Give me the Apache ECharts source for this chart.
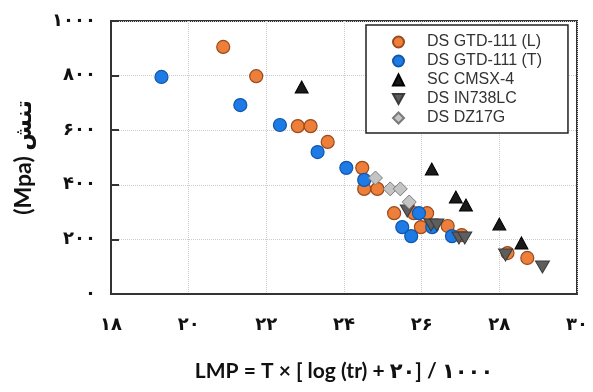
<!DOCTYPE html>
<html><head><meta charset="utf-8">
<script src="https://cdn.jsdelivr.net/npm/echarts@6/dist/echarts.min.js"></script>
<style>html,body{margin:0;padding:0;background:#fff}#c{width:593px;height:392px}</style>
</head><body><div id="c"></div>
<script>
var seriesNames = ['DS GTD-111 (L)', 'DS GTD-111 (T)', 'SC CMSX-4', 'DS IN738LC', 'DS DZ17G'];
var gtdL = [[20.89,905],[21.74,798],[22.81,615],[23.14,615],[23.58,557],[24.47,462],[24.52,385],[24.86,385],[25.29,296],[25.80,296],[26.14,296],[25.98,245],[26.67,249],[27.03,216],[28.21,150],[28.72,132]];
var gtdT = [[19.30,795],[21.33,692],[22.35,619],[23.32,520],[24.06,462],[24.52,418],[25.50,245],[25.73,212],[25.93,296],[26.27,245],[26.78,212]];
var cmsx = [[22.91,758],[26.26,458],[26.88,355],[27.14,326],[28.00,256],[28.57,187]];
var in738 = [[25.63,304],[26.24,253],[26.39,253],[26.96,205],[27.11,205],[28.16,143],[29.11,99]];
var dz17 = [[24.81,425],[25.19,385],[25.45,385],[25.68,337]];
var xTicks = [18,20,22,24,26,28,30];
var yTicks = [0,200,400,600,800,1000];
var xTitle = 'LMP = T × [ log (tr) + ۲۰] / ۱۰۰۰';
var yTitle = '\u200E(Mpa) تنش\u200E';

function fa(v){ return String(v).replace(/[0-9]/g, function(d){ return '۰۱۲۳۴۵۶۷۸۹'[+d]; }); }

var chart = echarts.init(document.getElementById('c'), null, {renderer:'canvas'});
var downTri = 'path://M0,0 L10,0 L5,9 Z';
chart.setOption({
  animation:false,
  grid:{left:111, top:21, right:16, bottom:98, show:true, borderColor:'#333', borderWidth:2, backgroundColor:'transparent'},
  legend:{
    left:366, top:25, orient:'vertical',
    padding:[9,26,7,26], itemGap:3, itemWidth:11, itemHeight:11,
    borderColor:'#222', borderWidth:1.5, backgroundColor:'#fff',
    textStyle:{fontFamily:'Liberation Sans, Arial', fontSize:16, color:'#333', lineHeight:16, padding:[0,0,0,18]},
    data:seriesNames
  },
  xAxis:{
    type:'value', min:xTicks[0], max:xTicks[xTicks.length-1], interval:2,
    axisLine:{show:true, onZero:false, lineStyle:{color:'#333', width:2}},
    axisTick:{show:false},
    splitLine:{show:true, lineStyle:{color:'#ccc', type:'dotted', width:1}},
    axisLabel:{formatter:function(v){return fa(v);}, fontFamily:'DejaVu Sans', fontWeight:'bold', fontSize:18, color:'#111', margin:22},
    name:xTitle, nameLocation:'middle', nameGap:67,
    nameTextStyle:{fontFamily:'Lato, DejaVu Sans', fontWeight:'bold', fontSize:21, color:'#111'}
  },
  yAxis:{
    type:'value', min:yTicks[0], max:yTicks[yTicks.length-1], interval:200,
    axisLine:{show:true, onZero:false, lineStyle:{color:'#333', width:2}},
    axisTick:{show:true, inside:true, length:8, lineStyle:{color:'#333', width:2}},
    splitLine:{show:true, lineStyle:{color:'#ccc', type:'dotted', width:1}},
    axisLabel:{formatter:function(v){return fa(v);}, fontFamily:'DejaVu Sans', fontWeight:'bold', fontSize:18, color:'#111', margin:15},
    name:yTitle, nameLocation:'middle', nameGap:76, nameRotate:90,
    nameTextStyle:{fontFamily:'Lato, DejaVu Sans', fontWeight:'bold', fontSize:23, color:'#111'}
  },
  series:[
    {name:seriesNames[0], type:'scatter', data:gtdL, symbol:'circle', symbolSize:13, z:2,
     itemStyle:{color:'#EE7F3A', borderColor:'#9A4A1C', borderWidth:1.2, opacity:1}},
    {name:seriesNames[1], type:'scatter', data:gtdT, symbol:'circle', symbolSize:13, z:3,
     itemStyle:{color:'#1E7BE6', borderColor:'#1257A8', borderWidth:1.2, opacity:1}},
    {name:seriesNames[2], type:'scatter', data:cmsx, symbol:'triangle', symbolSize:[13,12], z:4,
     itemStyle:{color:'#1a1a1a', borderColor:'#000', borderWidth:1, opacity:1}},
    {name:seriesNames[3], type:'scatter', data:in738, symbol:downTri, symbolSize:[14,12], z:5,
     itemStyle:{color:'#5e5e5e', borderColor:'#3a3a3a', borderWidth:1, opacity:1}},
    {name:seriesNames[4], type:'scatter', data:dz17, symbol:'diamond', symbolSize:[14,14], z:6,
     itemStyle:{color:'#C4C4C4', borderColor:'#7a7a7a', borderWidth:1, opacity:1}}
  ]
});
</script></body></html>
